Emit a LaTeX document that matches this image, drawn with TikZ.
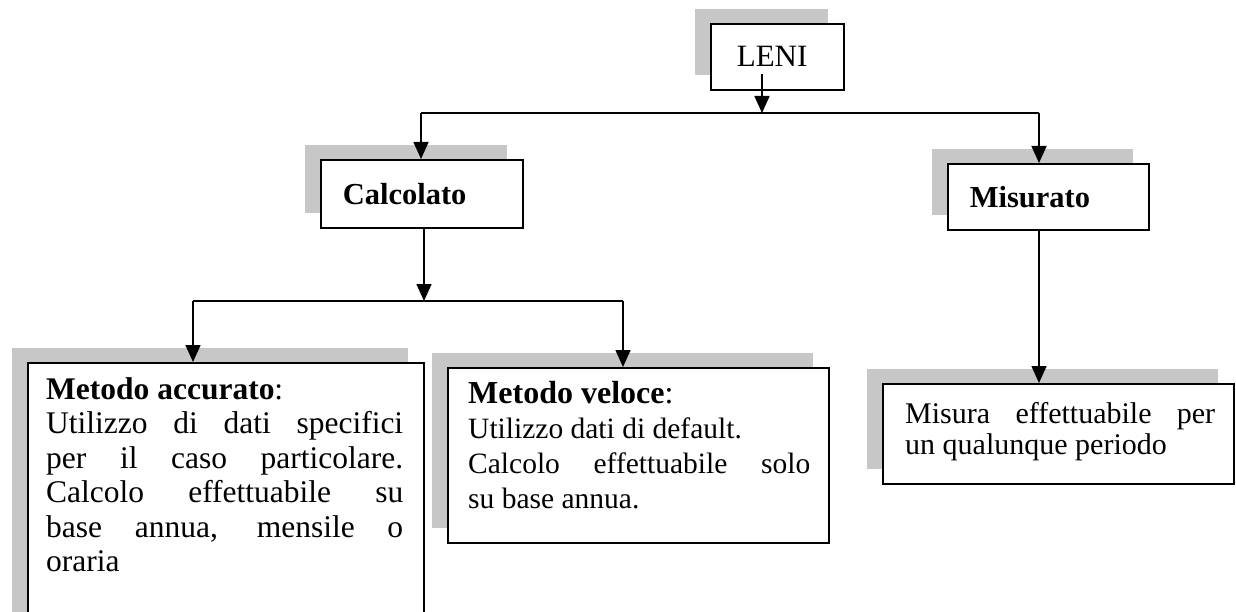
\documentclass[tikz,border=0pt]{standalone}
\usepackage{fontspec}
\setmainfont{Liberation Serif}
\usetikzlibrary{arrows.meta,shadows}
\begin{document}
\begin{tikzpicture}[x=1pt,y=-1pt,
  box/.style={draw=black, line width=1.6pt, fill=white,
    drop shadow={shadow xshift=-16pt, shadow yshift=15pt, fill=black!22, opacity=1},
    anchor=north west, inner sep=0pt},
  head/.style={box, align=left, inner xsep=22pt, font=\fontsize{30.5}{34}\selectfont\bfseries},
  arr/.style={line width=1.5pt, -{Triangle[width=15pt,length=17pt]}},
  ln/.style={line width=1.5pt},
  txt/.style={anchor=base west, inner sep=0pt, align=justify}
]
\useasboundingbox (0,0) rectangle (1236,612);
\clip (0,0) rectangle (1236,612);

% boxes
\node[box, align=left, inner xsep=26pt, text width=81pt, minimum height=66pt,
      font=\fontsize{31}{36}\selectfont] (leni) at (710,23) {LENI};
\node[head, text width=158pt, minimum height=68pt] (calc) at (320,159) {Calcolato};
\node[head, text width=157pt, minimum height=66pt] (mis) at (947,163) {Misurato};
\node[box, minimum width=396pt, minimum height=270pt] (acc) at (27,362) {};
\node[box, minimum width=381pt, minimum height=175pt] (vel) at (447,367) {};
\node[box, minimum width=351pt, minimum height=100pt] (misu) at (882,383) {};

% texts
\node[txt, text width=357pt, font=\fontsize{31.5}{34.5}\selectfont] (acct) at (46,399)
  {\textbf{Metodo accurato}:\par
   Utilizzo di dati specifici\linebreak per il caso particolare.\linebreak
   Calcolo effettuabile su\linebreak base annua, mensile o\linebreak oraria};
\node[txt, text width=342pt, font=\fontsize{29.5}{35}\selectfont] (velt) at (468,403)
  {{\fontsize{32}{35}\selectfont\textbf{Metodo veloce}:}\par
   Utilizzo dati di default.\par
   Calcolo effettuabile solo\linebreak su base annua.};
\node[txt, text width=310pt, font=\fontsize{30}{31}\selectfont] (misut) at (905,423)
  {Misura effettuabile per\linebreak un qualunque periodo};

% connectors
\coordinate (j1) at (762,113);
\coordinate (xc) at (421,0);
\coordinate (xm) at (1039,0);
\draw[arr] ([yshift=17pt]leni.south -| j1) -- (j1);
\draw[ln] (j1 -| xc) -- (j1 -| xm);
\draw[arr] (j1 -| xc) -- (calc.north -| xc);
\draw[arr] (j1 -| xm) -- (mis.north -| xm);

\coordinate (j2) at (424,301);
\coordinate (xa) at (193,0);
\coordinate (xv) at (623,0);
\draw[arr] (calc.south -| j2) -- (j2);
\draw[ln] (j2 -| xa) -- (j2 -| xv);
\draw[arr] (j2 -| xa) -- (acc.north -| xa);
\draw[arr] (j2 -| xv) -- (vel.north -| xv);

\draw[arr] (mis.south -| xm) -- (misu.north -| xm);
\end{tikzpicture}
\end{document}
